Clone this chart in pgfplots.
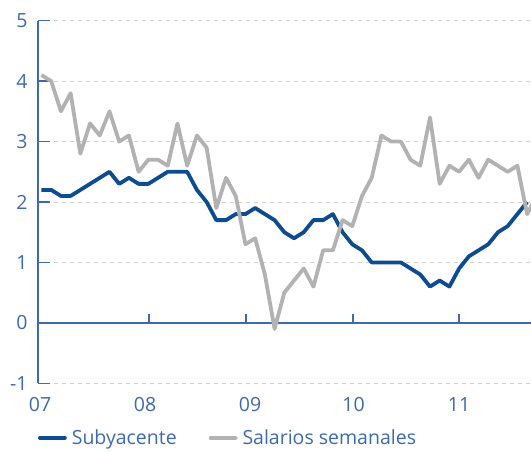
\documentclass[border=0pt]{standalone}
\usepackage{pgfplots}
\pgfplotsset{compat=1.18}
\usepackage{fontspec}
\setmainfont{Open Sans}
\definecolor{labelblue}{HTML}{3D6AAE}
\definecolor{lineblue}{HTML}{0E4C92}
\definecolor{graycol}{HTML}{B2B2B2}
\definecolor{gridgray}{HTML}{CFCFCF}
\begin{document}
\begin{tikzpicture}
\begin{axis}[
  name=ax,
  width=493pt, height=362.6pt, scale only axis,
  xmin=-0.36, xmax=50.4, ymin=-1, ymax=5,
  clip mode=individual,
  axis lines*=left, separate axis lines,
  x axis line style={draw=none},
  y axis line style={draw=labelblue, line width=1.3pt},
  ytick={-1,0,1,2,3,4,5},
  yticklabels={-1,0,1,2,3,4,5},
  xtick={-0.15,10.66,21.47,32.13,43.0},
  xticklabels={07,08,09,10,11},
  major tick length=0pt,
  ytick pos=left, xtick pos=left,
  ymajorgrids,
  grid style={dash pattern=on 4pt off 4pt, color=gridgray, line width=0.9pt},
  tick label style={font=\fontsize{19.5}{19.5}\selectfont, text=labelblue},
  yticklabel style={xshift=-7pt},
  xticklabel style={yshift=-11pt},
  legend columns=2,
  legend style={at={(0,0)}, anchor=west, yshift=-54.7pt, draw=none, fill=none,
    inner sep=0pt, outer sep=0pt,
    font=\fontsize{19.5}{19.5}\selectfont, text=labelblue,
    /tikz/every odd column/.append style={column sep=3pt},
    /tikz/every even column/.append style={column sep=30pt}},
  legend image code/.code={\draw[#1, line cap=round] (2pt,0pt) -- (27pt,0pt);},
]
\draw[labelblue, line width=1.3pt] (axis cs:-0.36,0) -- (axis cs:50.4,0);
\pgfplotsinvokeforeach{11.07,21.06,32.07,43.0}{
  \draw[labelblue, line width=1.3pt] (axis cs:#1,0) -- ([yshift=9pt]axis cs:#1,0);
}
\pgfplotsinvokeforeach{-1,0,1,2,3,4,5}{
  \draw[labelblue, line width=1.3pt] (axis cs:-0.36,#1) -- ([xshift=12pt]axis cs:-0.36,#1);
}
\addplot[lineblue, line width=3.8pt, line join=round] table {
x y
0 2.2
1 2.2
2 2.1
3 2.1
4 2.2
5 2.3
6 2.4
7 2.5
8 2.3
9 2.4
10 2.3
11 2.3
12 2.4
13 2.5
14 2.5
15 2.5
16 2.2
17 2.0
18 1.7
19 1.7
20 1.8
21 1.8
22 1.9
23 1.8
24 1.7
25 1.5
26 1.4
27 1.5
28 1.7
29 1.7
30 1.8
31 1.5
32 1.3
33 1.2
34 1.0
35 1.0
36 1.0
37 1.0
38 0.9
39 0.8
40 0.6
41 0.7
42 0.6
43 0.9
44 1.1
45 1.2
46 1.3
47 1.5
48 1.6
49 1.8
50 2.0
};
\addlegendentry{Subyacente}
\addplot[graycol, line width=3.8pt, line join=round] table {
x y
0 4.1
1 4.0
2 3.5
3 3.8
4 2.8
5 3.3
6 3.1
7 3.5
8 3.0
9 3.1
10 2.5
11 2.7
12 2.7
13 2.6
14 3.3
15 2.6
16 3.1
17 2.9
18 1.9
19 2.4
20 2.1
21 1.3
22 1.4
23 0.8
24 -0.1
25 0.5
26 0.7
27 0.9
28 0.6
29 1.2
30 1.2
31 1.7
32 1.6
33 2.1
34 2.4
35 3.1
36 3.0
37 3.0
38 2.7
39 2.6
40 3.4
41 2.3
42 2.6
43 2.5
44 2.7
45 2.4
46 2.7
47 2.6
48 2.5
49 2.6
50 1.8
51 2.1
};
\addlegendentry{Salarios semanales}
\end{axis}
\pgfresetboundingbox
\path ([xshift=-38pt,yshift=-68.7pt]ax.south west) rectangle ([yshift=20.7pt]ax.north east);
\end{tikzpicture}
\end{document}
